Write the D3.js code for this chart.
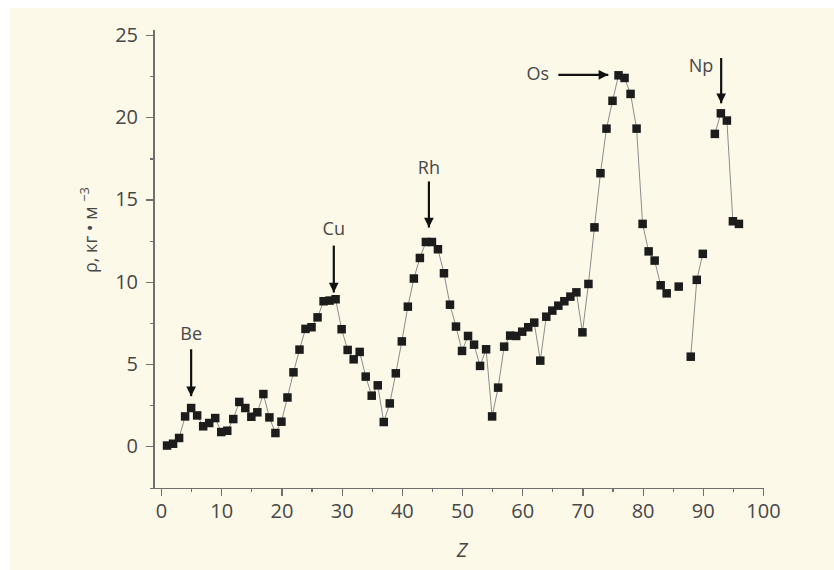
<!DOCTYPE html>
<html>
<head>
    <meta charset="utf-8">
    <script src="https://d3js.org/d3.v7.min.js"></script>
    <style>
        body { margin: 0; background: #fff; }
        .axis text { font-family: 'Open Sans', sans-serif; font-size: 20px; fill: #474747; }
        .axis path, .axis line { stroke: #6f6f6f; stroke-width: 1.2; shape-rendering: crispEdges; }
        .note { font-family: 'Open Sans', sans-serif; font-size: 18px; fill: #474747; }
    </style>
</head>
<body>
<script>
    // атомный номер и плотность (значения с графика)
    var zValues = [1, 2, 3, 4, 5, 6, 7, 8, 9, 10,
        11, 12, 13, 14, 15, 16, 17, 18, 19, 20,
        21, 22, 23, 24, 25, 26, 27, 28, 29, 30,
        31, 32, 33, 34, 35, 36, 37, 38, 39, 40,
        41, 42, 43, 44, 45, 46, 47, 48, 49, 50,
        51, 52, 53, 54, 55, 56, 57, 58, 59, 60,
        61, 62, 63, 64, 65, 66, 67, 68, 69, 70,
        71, 72, 73, 74, 75, 76, 77, 78, 79, 80,
        81, 82, 83, 84, 86, 88, 89, 90, 92, 93,
        94, 95, 96];
    var rhoValues = [0.05, 0.16, 0.51, 1.82, 2.33, 1.88, 1.22, 1.42, 1.72, 0.87,
        0.95, 1.66, 2.7, 2.33, 1.8, 2.07, 3.18, 1.76, 0.81, 1.5,
        2.97, 4.5, 5.88, 7.14, 7.24, 7.84, 8.82, 8.86, 8.94, 7.12,
        5.86, 5.29, 5.74, 4.24, 3.08, 3.71, 1.48, 2.61, 4.44, 6.38,
        8.49, 10.2, 11.45, 12.42, 12.42, 11.98, 10.52, 8.61, 7.28, 5.8,
        6.71, 6.18, 4.89, 5.9, 1.82, 3.57, 6.06, 6.73, 6.71, 6.97,
        7.24, 7.52, 5.21, 7.88, 8.25, 8.55, 8.82, 9.1, 9.36, 6.93,
        9.87, 13.31, 16.6, 19.31, 21.0, 22.55, 22.39, 21.42, 19.31, 13.52,
        11.85, 11.29, 9.79, 9.3, 9.71, 5.45, 10.12, 11.7, 18.99, 20.24,
        19.8, 13.68, 13.52];

    var xTicks = [0, 10, 20, 30, 40, 50, 60, 70, 80, 90, 100];
    var yTicks = [0, 5, 10, 15, 20, 25];

    // подписи со стрелками: текст, точка текста, начало и конец стрелки
    var noteLabels = ["Be", "Cu", "Rh", "Os", "Np"];
    var noteText = [[5, 6.9], [28.7, 13.3], [44.5, 17.0], [62.6, 22.7], [89.7, 23.2]];
    var noteFrom = [[5, 5.9], [28.7, 12.2], [44.5, 16.1], [66, 22.58], [93.05, 23.6]];
    var noteTo = [[5, 3.05], [28.7, 9.35], [44.5, 13.3], [74.3, 22.58], [93.05, 20.85]];

    var svgWidth = 834, svgHeight = 570;
    var svg = d3.select("body").append("svg")
        .attr("width", svgWidth)
        .attr("height", svgHeight);

    svg.append("rect")
        .attr("x", 10).attr("y", 8)
        .attr("width", svgWidth - 10).attr("height", svgHeight - 8)
        .attr("fill", "#fdf9e9");

    var x = d3.scaleLinear().domain([-2, 100]).range([149, 763]);
    var y = d3.scaleLinear().domain([-2.5, 25]).range([487.5, 35]);

    svg.append("g")
        .attr("class", "axis")
        .attr("transform", "translate(0,488)")
        .call(d3.axisBottom(x).tickValues(d3.range(0, 101, 5)).tickSizeOuter(0)
            .tickFormat(function (d) { return xTicks.indexOf(d) >= 0 ? d : ""; }))
        .call(function (g) {
            g.selectAll(".tick line").attr("y2", function (d) { return xTicks.indexOf(d) >= 0 ? 8 : 4; });
            g.selectAll(".tick text").attr("y", 16);
        });

    svg.append("g")
        .attr("class", "axis")
        .attr("transform", "translate(154,0)")
        .call(d3.axisLeft(y).tickValues(d3.range(0, 25.1, 2.5))
            .tickSizeOuter(0)
            .tickFormat(function (d) { return yTicks.indexOf(d) >= 0 ? d : ""; }))
        .call(function (g) {
            g.select(".domain").attr("d", "M0," + y(-2.5) + "V30");
            g.selectAll(".tick line").attr("x2", function (d) { return yTicks.indexOf(d) >= 0 ? -8 : -4; });
            g.selectAll(".tick text").attr("x", -16);
        });

    // ряд разбит на куски там, где нет элементов
    var points = zValues.map(function (z, i) { return { z: z, rho: rhoValues[i] }; });
    var segments = [];
    points.forEach(function (p, i) {
        if (i === 0 || p.z - points[i - 1].z > 1) segments.push([]);
        segments[segments.length - 1].push(p);
    });

    var line = d3.line()
        .x(function (d) { return x(d.z); })
        .y(function (d) { return y(d.rho); });

    svg.selectAll(".seg")
        .data(segments)
        .enter().append("path")
        .attr("class", "seg")
        .attr("d", line)
        .attr("fill", "none")
        .attr("stroke", "#8c8c8c")
        .attr("stroke-width", 1);

    svg.selectAll(".pt")
        .data(points)
        .enter().append("rect")
        .attr("class", "pt")
        .attr("x", function (d) { return x(d.z) - 4.25; })
        .attr("y", function (d) { return y(d.rho) - 4.25; })
        .attr("width", 8.5)
        .attr("height", 8.5)
        .attr("fill", "#1c1c1c");

    svg.append("defs").append("marker")
        .attr("id", "head")
        .attr("viewBox", "0 0 10 10")
        .attr("refX", 10).attr("refY", 5)
        .attr("markerWidth", 5).attr("markerHeight", 4.4)
        .attr("markerUnits", "strokeWidth")
        .attr("orient", "auto")
        .append("path")
        .attr("d", "M0,0L10,5L0,10Z")
        .attr("fill", "#111");

    noteLabels.forEach(function (label, i) {
        svg.append("line")
            .attr("x1", x(noteFrom[i][0])).attr("y1", y(noteFrom[i][1]))
            .attr("x2", x(noteTo[i][0])).attr("y2", y(noteTo[i][1]))
            .attr("stroke", "#111")
            .attr("stroke-width", 2.2)
            .attr("marker-end", "url(#head)");
        svg.append("text")
            .attr("class", "note")
            .attr("x", x(noteText[i][0]))
            .attr("y", y(noteText[i][1]))
            .attr("text-anchor", "middle")
            .attr("dominant-baseline", "central")
            .text(label);
    });

    svg.append("text")
        .attr("class", "note")
        .attr("x", x(50))
        .attr("y", 549)
        .attr("text-anchor", "middle")
        .attr("dominant-baseline", "central")
        .style("font-size", "20px")
        .style("font-style", "italic")
        .text("Z");

    var yLabel = svg.append("text")
        .attr("class", "note")
        .attr("transform", "translate(97,230) rotate(-90)")
        .attr("text-anchor", "middle")
        .style("font-size", "18px");
    yLabel.append("tspan").text("ρ, кг • м ");
    yLabel.append("tspan").attr("dy", -8).style("font-size", "13px").text("−3");
</script>
</body>
</html>
